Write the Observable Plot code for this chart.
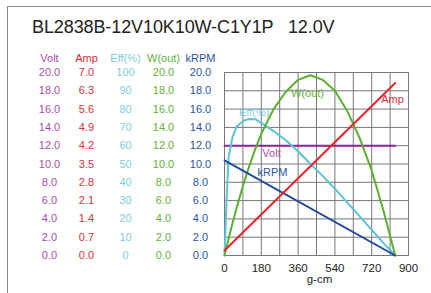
<!DOCTYPE html>
<html>
<head>
<meta charset="utf-8">
<script src="https://cdn.jsdelivr.net/npm/d3@7"></script>
<script src="https://cdn.jsdelivr.net/npm/@observablehq/plot@0.6"></script>
<style>
  html, body { margin: 0; padding: 0; background: #fff; }
  body { width: 431px; height: 293px; position: relative; overflow: hidden; font-family: "Liberation Sans", Arial, sans-serif; }
  #border { position: absolute; left: 7px; top: 6px; width: 440px; height: 300px; border-top: 1px solid #888; border-left: 1px solid #888; }
  #title { position: absolute; left: 32px; top: 17px; font-size: 18px; line-height: 21px; color: #222; white-space: pre; letter-spacing: -0.1px; }
  #chart { position: absolute; left: 0; top: 0; }
</style>
</head>
<body>
<div id="border"></div>
<div id="title">BL2838B-12V10K10W-C1Y1P   12.0V</div>
<div id="chart"></div>
<script>
// ---- data ----
const torque   = [0, 10, 20, 40, 60, 90, 120, 150, 180, 240, 300, 360, 420, 480, 540, 600, 660, 720, 780, 835];
const effPct   = [0, 30, 54, 65, 70.5, 73.5, 74.6, 74.5, 72.5, 68, 63, 57, 50, 43.5, 36.5, 29, 21.5, 14, 6.5, 0];
const wOut     = [0, 0.93, 1.84, 3.6, 5.26, 7.6, 9.7, 11.6, 13.3, 16.0, 17.9, 19.2, 19.7, 19.2, 18.0, 15.8, 12.9, 9.3, 4.7, 0];
const lineTorque = [0, 835];
const ampVals  = [0.19, 6.6];
const krpmVals = [10.4, 0];
const voltVals = [12.0, 12.0];

const voltTicks = [0, 2, 4, 6, 8, 10, 12, 14, 16, 18, 20];
const ampTicks  = [0.0, 0.7, 1.4, 2.1, 2.8, 3.5, 4.2, 4.9, 5.6, 6.3, 7.0];
const effTicks  = [0, 10, 20, 30, 40, 50, 60, 70, 80, 90, 100];
const wTicks    = [0, 2, 4, 6, 8, 10, 12, 14, 16, 18, 20];
const krpmTicks = [0, 2, 4, 6, 8, 10, 12, 14, 16, 18, 20];
const xTicks    = [0, 180, 360, 540, 720, 900];
const xGrid     = [0, 90, 180, 270, 360, 450, 540, 630, 720, 810, 900];

const headers = ["Volt", "Amp", "Eff(%)", "W(out)", "kRPM"];
// curve annotations (data coordinates on g-cm / common 0-20 scale)
const curveLabels = [
  {name: "W(out)", t: 406, v: 17.7},
  {name: "Amp",    t: 822, v: 17.0},
  {name: "Eff(%)", t: 145, v: 15.6},
  {name: "Volt",   t: 230, v: 11.2},
  {name: "kRPM",   t: 235, v: 9.1}
];

// ---- styles ----
const col = {
  "Volt":   {line: "#8a2a8a", text: "#a950a9"},
  "Amp":    {line: "#e8232c", text: "#e0303a"},
  "Eff(%)": {line: "#5cc3d9", text: "#7fcde0"},
  "W(out)": {line: "#5cb02e", text: "#62b23a"},
  "kRPM":   {line: "#1f4b9c", text: "#2a55a6"}
};
const colDx = {"Volt": -175, "Amp": -138, "Eff(%)": -99, "W(out)": -61, "kRPM": -24};

// scale everything to the common 0..20 vertical scale
const ampToY = a => a * 20 / 7;
const effToY = e => e / 5;

const effData = torque.map((t, i) => ({t, y: effToY(effPct[i])}));
const wData = torque.map((t, i) => ({t, y: wOut[i]}));
const ampData = lineTorque.map((t, i) => ({t, y: ampToY(ampVals[i])}));
const krpmData = lineTorque.map((t, i) => ({t, y: krpmVals[i]}));
const voltData = lineTorque.map((t, i) => ({t, y: voltVals[i]}));

const tickCols = [
  {name: "Volt",   vals: voltTicks, fmt: d => d.toFixed(1)},
  {name: "Amp",    vals: ampTicks,  fmt: d => d.toFixed(1)},
  {name: "Eff(%)", vals: effTicks,  fmt: d => String(d)},
  {name: "W(out)", vals: wTicks,    fmt: d => d.toFixed(1)},
  {name: "kRPM",   vals: krpmTicks, fmt: d => d.toFixed(1)}
];
const tableRows = [];
tickCols.forEach(c => c.vals.forEach((v, i) => tableRows.push({name: c.name, y: voltTicks[i], label: c.fmt(v)})));

const font = "Liberation Sans, Arial, sans-serif";

const chart = Plot.plot({
  width: 431,
  height: 293,
  marginLeft: 224,
  marginRight: 23,
  marginTop: 72,
  marginBottom: 38,
  style: {fontFamily: font, background: "transparent", overflow: "visible"},
  x: {domain: [0, 900]},
  y: {domain: [0, 20], axis: null},
  marks: [
    Plot.gridX(xGrid, {stroke: "#777", strokeOpacity: 1, strokeWidth: 1}),
    Plot.gridY(voltTicks, {stroke: "#777", strokeOpacity: 1, strokeWidth: 1}),
    Plot.frame({stroke: "#777", strokeWidth: 1}),
    Plot.axisX(xTicks, {tickSize: 0, tickPadding: 8, fontSize: 11.5, fill: "#222", label: null}),
    Plot.text(["g-cm"], {frameAnchor: "bottom", dy: 27, dx: 3, fontSize: 11.5, fill: "#222"}),
    // table of scale values on the left
    ...tickCols.map(c => Plot.text(tableRows.filter(r => r.name === c.name), {
      y: "y", text: "label", frameAnchor: "left", dx: colDx[c.name],
      fontSize: 11, textAnchor: "middle", fill: col[c.name].text
    })),
    ...headers.map(h => Plot.text([h], {
      frameAnchor: "top-left", dx: colDx[h], dy: -18, fontSize: 11,
      textAnchor: "middle", fill: col[h].text
    })),
    // curves
    Plot.line(voltData, {x: "t", y: "y", stroke: col["Volt"].line, strokeWidth: 2}),
    Plot.line(effData, {x: "t", y: "y", stroke: col["Eff(%)"].line, strokeWidth: 2}),
    Plot.line(wData, {x: "t", y: "y", stroke: col["W(out)"].line, strokeWidth: 2}),
    Plot.line(krpmData, {x: "t", y: "y", stroke: col["kRPM"].line, strokeWidth: 2}),
    Plot.line(ampData, {x: "t", y: "y", stroke: col["Amp"].line, strokeWidth: 2}),
    Plot.text(curveLabels, {x: "t", y: "v", text: "name", fontSize: 11, fill: d => col[d.name].text})
  ]
});
document.getElementById("chart").appendChild(chart);
</script>
</body>
</html>
